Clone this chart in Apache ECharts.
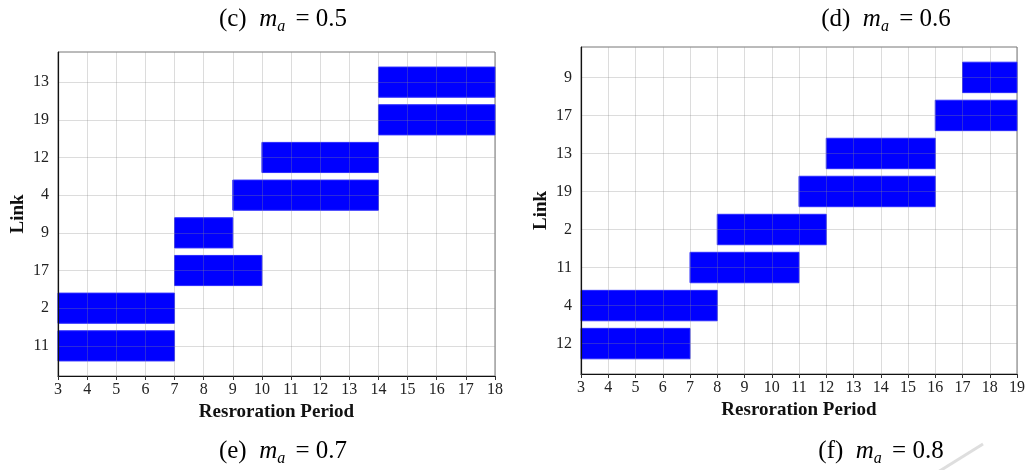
<!DOCTYPE html>
<html>
<head>
<meta charset="utf-8">
<script src="https://cdn.jsdelivr.net/npm/echarts@6/dist/echarts.min.js"></script>
<style>
  html, body { margin: 0; padding: 0; background: #fff; }
  #chart { width: 1028px; height: 470px; }
</style>
</head>
<body>
<div id="chart"></div>
<script>
// Restoration schedules: one row per link, listed bottom to top.
const linksC = ['11', '2', '17', '9', '4', '12', '19', '13'];
const startC = [3, 3, 7, 7, 9, 10, 14, 14];
const endC   = [7, 7, 10, 9, 14, 14, 18, 18];

const linksD = ['12', '4', '11', '2', '19', '13', '17', '9'];
const startD = [3, 3, 7, 8, 11, 12, 16, 17];
const endD   = [7, 8, 11, 12, 16, 16, 19, 19];

const periodRangeC = [3, 18];
const periodRangeD = [3, 19];

const SERIF = '"Liberation Serif", "DejaVu Serif", serif';
const BAR_HEIGHT = 0.8;
const GRID_LINE = 'rgba(140,140,140,0.3)';

function rows(starts, ends) {
  return starts.map((s, i) => [s, ends[i], i + 1]);
}

function renderBar(params, api) {
  const y = api.value(2);
  const p0 = api.coord([api.value(0), y]);
  const p1 = api.coord([api.value(1), y]);
  const h = api.size([0, BAR_HEIGHT])[1];
  return {
    type: 'rect',
    shape: { x: p0[0], y: p0[1] - h / 2, width: p1[0] - p0[0], height: h },
    style: { fill: '#0000ff', stroke: '#2a2aff', lineWidth: 1 }
  };
}

function xAxisFor(idx, range) {
  return {
    type: 'value', gridIndex: idx, min: range[0], max: range[1], interval: 1, z: 5,
    axisLine: { show: true, onZero: false, lineStyle: { color: '#111', width: 1.2 } },
    axisTick: { show: true, length: 4, lineStyle: { color: '#333' } },
    splitLine: { show: true, lineStyle: { color: GRID_LINE, width: 1 } },
    axisLabel: { fontFamily: SERIF, fontSize: 16, color: '#222', margin: 6 },
    name: 'Resroration Period', nameLocation: 'middle', nameGap: 26,
    nameTextStyle: { fontFamily: SERIF, fontSize: 19, fontWeight: 'bold', color: '#111' }
  };
}

function yAxisFor(idx, names) {
  const ticks = names.map((_, i) => i + 1);
  return {
    type: 'value', gridIndex: idx, min: 0.2, max: 8.8, z: 5,
    axisLine: { show: true, onZero: false, lineStyle: { color: '#111', width: 1.2 } },
    axisTick: { show: false, customValues: ticks },
    splitLine: { show: true, lineStyle: { color: GRID_LINE, width: 1 } },
    axisLabel: {
      customValues: ticks, fontFamily: SERIF, fontSize: 16, color: '#222', margin: 9,
      formatter: v => names[Math.round(v) - 1] || ''
    },
    name: 'Link', nameLocation: 'middle', nameGap: 30,
    nameTextStyle: { fontFamily: SERIF, fontSize: 19, fontWeight: 'bold', color: '#111' }
  };
}

function caption(x, y, letter, value) {
  return {
    type: 'text', x: x, y: y,
    style: {
      text: '{n|(' + letter + ')  }{m|m}{a|a}{n| = ' + value + '}',
      align: 'center', verticalAlign: 'middle',
      rich: {
        n: { fontFamily: SERIF, fontSize: 25, color: '#111', lineHeight: 32 },
        m: { fontFamily: SERIF, fontSize: 25, fontStyle: 'italic', color: '#111', lineHeight: 32 },
        a: { fontFamily: SERIF, fontSize: 16, fontStyle: 'italic', color: '#111', lineHeight: 12, verticalAlign: 'bottom', padding: [0, 4, 0, 0] }
      }
    }
  };
}

const chart = echarts.init(document.getElementById('chart'), null, { renderer: 'canvas' });
chart.setOption({
  animation: false,
  backgroundColor: '#fff',
  grid: [
    { left: 58, right: 533, top: 52, bottom: 94, show: true, borderColor: '#777', borderWidth: 1 },
    { left: 581, right: 9, top: 47, bottom: 96, show: true, borderColor: '#777', borderWidth: 1 }
  ],
  xAxis: [xAxisFor(0, periodRangeC), xAxisFor(1, periodRangeD)],
  yAxis: [yAxisFor(0, linksC), yAxisFor(1, linksD)],
  series: [
    { type: 'custom', xAxisIndex: 0, yAxisIndex: 0, renderItem: renderBar,
      encode: { x: [0, 1], y: 2 }, data: rows(startC, endC), z: 2 },
    { type: 'custom', xAxisIndex: 1, yAxisIndex: 1, renderItem: renderBar,
      encode: { x: [0, 1], y: 2 }, data: rows(startD, endD), z: 2 }
  ],
  graphic: [
    caption(283, 19, 'c', '0.5'),
    caption(886, 19, 'd', '0.6'),
    caption(283, 451, 'e', '0.7'),
    caption(881, 451, 'f', '0.8'),
    { type: 'line', shape: { x1: 983, y1: 444, x2: 938, y2: 472 },
      style: { stroke: 'rgba(200,200,200,0.6)', lineWidth: 3 }, z: -1 }
  ]
});
</script>
</body>
</html>
